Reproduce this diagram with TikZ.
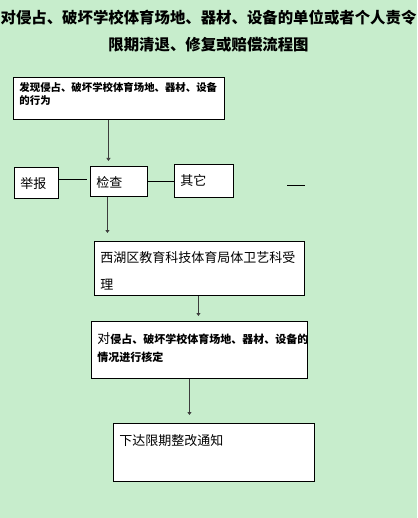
\documentclass[tikz,border=0pt]{standalone}
\usepackage{fontspec}
\newfontfamily\cjk{Noto Sans CJK SC}
\usepackage{xcolor}
\usepackage{tikz}
\usetikzlibrary{arrows.meta,positioning,calc}
\definecolor{eyegreen}{RGB}{199,237,204}
\definecolor{lineg}{RGB}{60,60,60}
% text held at the top left of a box
\newcommand{\boxtext}[3]{\parbox[c][#2][t]{#1}{\raggedright #3}}

\begin{document}
\begin{tikzpicture}[x=1pt, y=-1pt,
    box/.style={rectangle, draw=black, fill=white, line width=0.9pt, anchor=north west,
        inner xsep=6pt, inner ysep=10pt, font=\cjk\fontsize{13}{27}\selectfont},
    bbox/.style={box, font=\cjk\bfseries\fontsize{10.4}{13}\selectfont},
    arr/.style={-{Triangle[length=3pt,width=4pt]}, line width=0.9pt, draw=lineg, shorten >=5pt},
    link/.style={line width=0.9pt, draw=black}
]
\fill[eyegreen] (0,0) rectangle (417,518);
\useasboundingbox (0,0) rectangle (417,518);

\node[font=\cjk\bfseries\fontsize{15.4}{27}\selectfont, align=center, inner sep=0pt] (title) at (208.5,31.5)
    {对侵占、破坏学校体育场地、器材、设备的单位或者个人责令\\限期清退、修复或赔偿流程图};

\node[bbox, inner ysep=5pt] (find) at (13,77)
    {\boxtext{199pt}{32pt}{发现侵占、破坏学校体育场地、器材、设备\\的行为}};
\node[box] (report) at (14,167) {\boxtext{32pt}{11pt}{举报}};
\node[box] (check) at (90,166) {\boxtext{45pt}{10pt}{检查}};
\node[box] (other) at (174,164) {\boxtext{47pt}{13pt}{其它}};
\node[box] (office) at (94,241)
    {\boxtext{198pt}{34pt}{西湖区教育科技体育局体卫艺科受\\理}};
\node[box, font=\cjk\bfseries\fontsize{11}{18}\selectfont, inner ysep=11pt] (verify) at (91,321)
    {\boxtext{204pt}{35pt}{{\mdseries\fontsize{13}{18}\selectfont 对}侵占、破坏学校体育场地、器材、设备的\\情况进行核定}};
\node[box, inner ysep=11pt] (notice) at (113,423) {\boxtext{189pt}{36pt}{下达限期整改通知}};

\coordinate (dashL) at (287,185);
\coordinate (dashR) at (305,185);

\draw[arr] ([xshift=-10.5pt]find.south) -- ([xshift=-10.5pt]check.north);
\draw[link, shorten >=3pt] ([yshift=3pt]report.east) -- ([yshift=3pt]report.east -| check.west);
\draw[link] (check.east) -- (check.east -| other.west);
\draw[link] (dashL) -- (dashR);
\draw[arr, shorten >=8pt] ([xshift=-11.5pt]check.south) -- ([xshift=-11.5pt]check.south |- office.north);
\draw[arr] ([xshift=-1pt]office.south) -- ([xshift=-1pt]verify.north);
\draw[arr, shorten >=8pt] ([xshift=-10pt]verify.south) -- ([xshift=-10pt]verify.south |- notice.north);
\end{tikzpicture}
\end{document}
